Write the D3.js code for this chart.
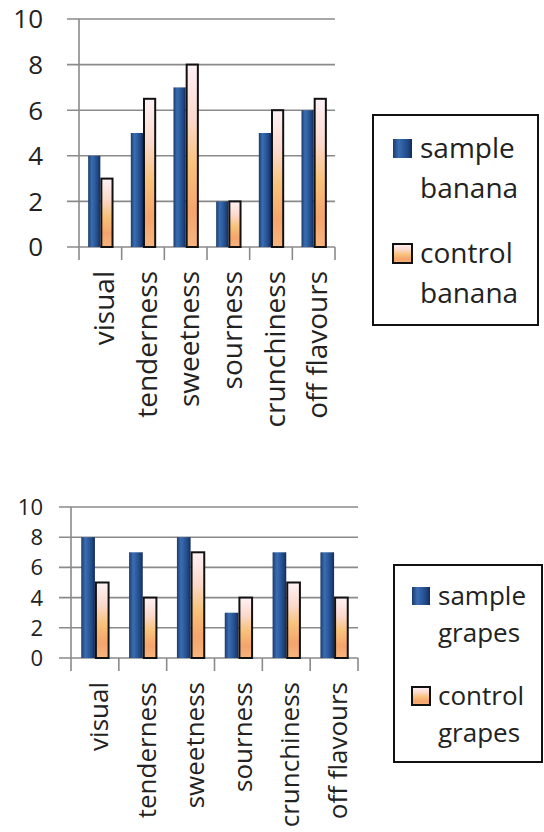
<!DOCTYPE html>
<html>
<head>
<meta charset="utf-8">
<script src="https://cdn.jsdelivr.net/npm/d3@7"></script>
<style>
  html, body { margin: 0; padding: 0; background: #fff; }
  svg { display: block; }
  text { font-family: "Open Sans", sans-serif; fill: #222; }
</style>
</head>
<body>
<div id="chart"></div>
<script>
const categories = ["visual", "tenderness", "sweetness", "sourness", "crunchiness", "off flavours"];
const sampleBanana = [4, 5, 7, 2, 5, 6];
const controlBanana = [3, 6.5, 8, 2, 6, 6.5];
const sampleGrapes = [8, 7, 8, 3, 7, 7];
const controlGrapes = [5, 4, 7, 4, 5, 4];
const yTicks = [0, 2, 4, 6, 8, 10];
const seriesKeys = ["sample", "control"];

const width = 544;
const height = 832;

const svg = d3.select("#chart")
  .append("svg")
  .attr("width", width)
  .attr("height", height);

const defs = svg.append("defs");

const blue = defs.append("linearGradient")
  .attr("id", "blueBar")
  .attr("x1", 0).attr("x2", 1).attr("y1", 0).attr("y2", 0);
[[0, "#1b3c6e"], [0.3, "#3b6db2"], [0.55, "#2c5b9d"], [0.8, "#1f4682"], [1, "#122b55"]]
  .forEach(([o, c]) => blue.append("stop").attr("offset", o).attr("stop-color", c));

const orange = defs.append("linearGradient")
  .attr("id", "orangeBar")
  .attr("x1", 0).attr("x2", 0).attr("y1", 0).attr("y2", 1);
[[0, "#fff2f6"], [0.3, "#fbd9cc"], [0.55, "#f8c27a"], [0.8, "#f5a46c"], [1, "#f7b57e"]]
  .forEach(([o, c]) => orange.append("stop").attr("offset", o).attr("stop-color", c));

function drawChart(cfg) {
  const { sample, control, left, right, top, bottom, font, legend, names } = cfg;
  const g = svg.append("g");

  const x = d3.scaleBand().domain(categories).range([left, right]);
  const xs = d3.scaleBand().domain(seriesKeys).range([0, x.bandwidth()]).paddingOuter(0.75);
  const y = d3.scaleLinear().domain([0, 10]).range([bottom, top]);

  // gridlines + y ticks
  g.append("g")
    .selectAll("line")
    .data(yTicks)
    .join("line")
    .attr("x1", left - 12)
    .attr("x2", right)
    .attr("y1", (d) => y(d))
    .attr("y2", (d) => y(d))
    .attr("stroke", "#8a8a8a")
    .attr("stroke-width", 1.6);

  g.append("g")
    .selectAll("text")
    .data(yTicks)
    .join("text")
    .attr("x", font.tickX)
    .attr("y", (d) => y(d))
    .attr("dy", "0.36em")
    .attr("text-anchor", "end")
    .style("font-size", font.tick + "px")
    .text((d) => d);

  // y axis line
  g.append("line")
    .attr("x1", left).attr("x2", left)
    .attr("y1", top).attr("y2", bottom)
    .attr("stroke", "#8a8a8a").attr("stroke-width", 1.6);

  // category ticks
  const edges = categories.map((c) => x(c)).concat([right]);
  g.append("g")
    .selectAll("line")
    .data(edges)
    .join("line")
    .attr("x1", (d) => d).attr("x2", (d) => d)
    .attr("y1", bottom).attr("y2", bottom + 13)
    .attr("stroke", "#8a8a8a").attr("stroke-width", 1.6);

  // bars
  const rows = categories.map((c, i) => ({ cat: c, sample: sample[i], control: control[i] }));
  const grp = g.append("g")
    .selectAll("g")
    .data(rows)
    .join("g")
    .attr("transform", (d) => `translate(${x(d.cat)},0)`);

  grp.append("rect")
    .attr("x", xs("sample"))
    .attr("width", xs.bandwidth())
    .attr("y", (d) => y(d.sample))
    .attr("height", (d) => bottom - y(d.sample))
    .attr("fill", "url(#blueBar)");

  grp.append("rect")
    .attr("x", xs("control") + 1)
    .attr("width", xs.bandwidth() - 1)
    .attr("y", (d) => y(d.control))
    .attr("height", (d) => bottom - y(d.control))
    .attr("fill", "url(#orangeBar)")
    .attr("stroke", "#111")
    .attr("stroke-width", 2);

  // category labels
  g.append("g")
    .selectAll("text")
    .data(categories)
    .join("text")
    .attr("transform", (d) => `translate(${x(d) + x.bandwidth() / 2 + 4},${bottom + font.labelGap}) rotate(-90)`)
    .attr("dy", "0.35em")
    .attr("text-anchor", "end")
    .style("font-size", font.label + "px")
    .text((d) => d);

  // legend
  const lg = g.append("g");
  lg.append("rect")
    .attr("x", legend.x).attr("y", legend.y)
    .attr("width", legend.w).attr("height", legend.h)
    .attr("fill", "#fff")
    .attr("stroke", "#111").attr("stroke-width", 2);

  const entries = [
    { fill: "url(#blueBar)", stroke: "none", lines: names[0] },
    { fill: "url(#orangeBar)", stroke: "#111", lines: names[1] },
  ];
  entries.forEach((e, i) => {
    const base = legend.y + legend.first + i * legend.step;
    lg.append("rect")
      .attr("x", legend.x + legend.sw)
      .attr("y", base - legend.box)
      .attr("width", legend.box).attr("height", legend.box)
      .attr("fill", e.fill)
      .attr("stroke", e.stroke).attr("stroke-width", 2);
    lg.append("text")
      .attr("x", legend.x + legend.tx)
      .attr("y", base)
      .style("font-size", font.legend + "px")
      .text(e.lines[0]);
    lg.append("text")
      .attr("x", legend.x + legend.tx)
      .attr("y", base + legend.line)
      .style("font-size", font.legend + "px")
      .text(e.lines[1]);
  });
}

drawChart({
  sample: sampleBanana,
  control: controlBanana,
  names: [["sample", "banana"], ["control", "banana"]],
  left: 79, right: 335, top: 19, bottom: 247,
  font: { tick: 26, tickX: 43, label: 28, legend: 28, labelGap: 24 },
  legend: { x: 373, y: 115, w: 165, h: 210, first: 43, step: 105, box: 19, sw: 20, tx: 47, line: 40 },
});

drawChart({
  sample: sampleGrapes,
  control: controlGrapes,
  names: [["sample", "grapes"], ["control", "grapes"]],
  left: 71, right: 358, top: 507, bottom: 658,
  font: { tick: 22, tickX: 43, label: 26, legend: 26, labelGap: 24 },
  legend: { x: 394, y: 565, w: 148, h: 197, first: 40, step: 100, box: 18, sw: 18, tx: 44, line: 37 },
});
</script>
</body>
</html>
